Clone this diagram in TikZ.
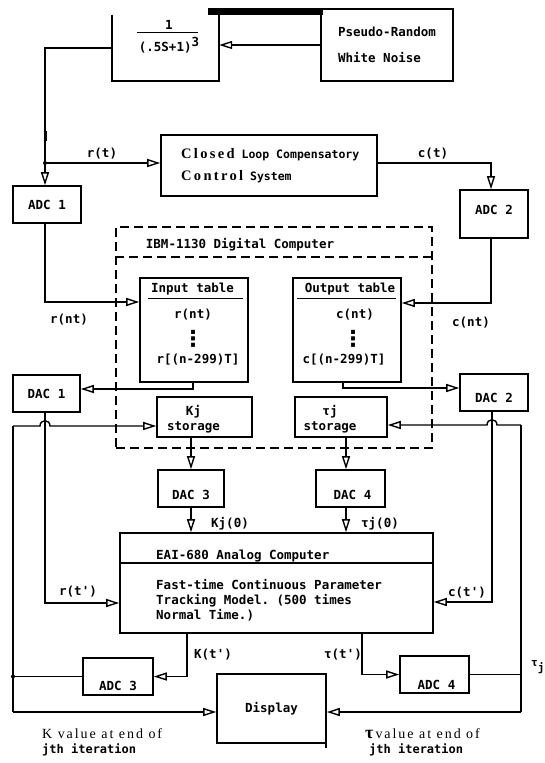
\documentclass[tikz,border=0pt]{standalone}
\usepackage{fontspec}
\setmainfont{Liberation Serif}
\setmonofont{DejaVu Sans Mono}
\newfontfamily\serifsp{Liberation Serif}[LetterSpace=16]
\newfontfamily\seriflb{Liberation Serif}[LetterSpace=14]
\newfontfamily\dvsans{DejaVu Sans}
\usetikzlibrary{arrows.meta}
\newcommand\tyf{\fontsize{12.5}{15}\selectfont\ttfamily\bfseries}
\newcommand\tyfwide{\fontsize{12.5}{26}\selectfont\ttfamily\bfseries}
\newcommand\tyfdots{\dvsans\fontsize{22}{22}\selectfont\bfseries}
\newcommand\tyfsmall{\fontsize{12}{12}\selectfont\ttfamily\bfseries}
\newcommand\tyfcl{\fontsize{11.5}{22}\selectfont\ttfamily\bfseries}
\newcommand\tyftj{\fontsize{11}{12}\selectfont\ttfamily\bfseries}
\newcommand\serifcl{\serifsp\fontsize{14.5}{22}\selectfont\bfseries}
\newcommand\seriflbl{\seriflb\fontsize{14}{14}\selectfont}
\begin{document}
\begin{tikzpicture}[x=1pt,y=-1pt,
  bx/.style={draw, line width=1.6pt, inner sep=0pt, font=\tyf, align=center},
  bxline/.style={line width=1.6pt},
  lbl/.style={font=\tyf, inner sep=0pt},
  ln/.style={line width=1.4pt},
  arr/.style={ln, -{Triangle[open,length=13pt,width=8pt]}},
  dsh/.style={line width=1.5pt, dash pattern=on 9pt off 5pt}
]
\useasboundingbox (0,0) rectangle (544,763);

% ---- top blocks
\node[minimum width=107pt, minimum height=66pt, inner sep=0pt] (tf) at (165.5,48) {};
\draw[bxline] (tf.north west) -- (tf.south west) -- (tf.south east) -- (tf.north east);
\node[lbl] (tfnum) at (169,25) {1};
\draw[line width=1pt] (137,32.5) -- (198,32.5);
\node[lbl] (tfden) at (169,45) {(.5S+1)\raisebox{5pt}{3}};
\fill (208,8) rectangle (323,15);
\node[bx, minimum width=132pt, minimum height=72pt, align=left,
      font=\tyfwide] (noise) at (387,45) {Pseudo-Random\\White Noise};

\node[bx, minimum width=216pt, minimum height=61pt] (cl) at (269,165.5) {};
\node[anchor=west, align=left, inner sep=0pt, font=\tyfcl] (cltxt) at (181,166)
  {{\serifcl Closed} Loop Compensatory\\
   {\serifcl Control} System};

\node[bx, minimum width=68pt, minimum height=37pt] (adc1) at (47,204.5) {ADC 1};
\node[bx, minimum width=68pt, minimum height=48pt,
      label={[lbl,yshift=4pt]center:ADC 2}] (adc2) at (494,214) {};

% ---- digital computer
\node[draw, dsh, minimum width=316pt, minimum height=221pt, inner sep=0pt] (comp) at (274,337.5) {};
\coordinate (sepy) at (0,257);
\draw[dsh] (comp.west |- sepy) -- (comp.east |- sepy);
\node[lbl] (title) at (240,245) {IBM-1130 Digital Computer};

\node[bx, minimum width=108pt, minimum height=104pt] (intab) at (194,330) {};
\node[lbl] (inh) at (192.5,289) {Input table};
\draw[line width=1.1pt] (148,298.5) -- (243,298.5);
\node[lbl] (in1) at (193,315) {r(nt)};
\node[lbl, font=\tyfdots] (indots) at (193,339) {⋮};
\node[lbl] (in2) at (198,360) {r[(n-299)T]};

\node[bx, minimum width=108pt, minimum height=104pt] (outtab) at (347,330) {};
\node[lbl] (outh) at (350,289) {Output table};
\draw[line width=1.1pt] (297,298.5) -- (396,298.5);
\node[lbl] (out1) at (355,315) {c(nt)};
\node[lbl, font=\tyfdots] (outdots) at (353,339) {⋮};
\node[lbl] (out2) at (344,360) {c[(n-299)T]};

\node[bx, minimum width=67pt, minimum height=37pt] (dac1) at (46.5,393.5) {DAC 1};
\node[bx, minimum width=68pt, minimum height=37pt,
      label={[lbl,yshift=-5pt]center:DAC 2}] (dac2) at (494,392.5) {};
\node[bx, minimum width=95pt, minimum height=40pt,
      label={[lbl,align=center,xshift=-11pt,yshift=-2pt]center:Kj\\storage}] (kjs) at (204.5,417) {};
\node[bx, minimum width=92pt, minimum height=40pt,
      label={[lbl,align=center,xshift=-11pt,yshift=-2pt]center:τj\\storage}] (tjs) at (341,417) {};

\node[bx, minimum width=66pt, minimum height=37pt,
      label={[lbl,yshift=-6pt]center:DAC 3}] (dac3) at (191,488.5) {};
\node[bx, minimum width=69pt, minimum height=37pt,
      label={[lbl,yshift=-6pt,xshift=2pt]center:DAC 4}] (dac4) at (350.5,488.5) {};

% ---- analog computer
\node[bx, minimum width=313pt, minimum height=100pt] (eai) at (276.5,583) {};
\coordinate (eaisep) at (0,563);
\draw[bxline] (eai.west |- eaisep) -- (eai.east |- eaisep);
\node[lbl, anchor=base west] (eaititle) at (156,559) {EAI-680 Analog Computer};
\node[lbl, anchor=base west, align=left] (eaibody) at (156,619)
  {Fast-time Continuous Parameter\\Tracking Model. (500 times\\Normal Time.)};

\node[bx, minimum width=70pt, minimum height=37pt,
      label={[lbl,yshift=-9pt]center:ADC 3}] (adc3) at (118,676.5) {};
\node[bx, minimum width=69pt, minimum height=37pt,
      label={[lbl,yshift=-10pt,xshift=2pt]center:ADC 4}] (adc4) at (434.5,674.5) {};
\node[bx, minimum width=109pt, minimum height=69pt] (disp) at (271.5,708.5) {Display};
\draw[line width=2.6pt] (326,727) -- (326,748);

% ---- connectors top
\coordinate (j1) at (45,163);
\coordinate (c1) at (491,163);
\draw[arr] (noise.west) -- (noise.west -| tf.east);
\draw[ln] (tf.west) -| (j1);
\draw[line width=3pt] (45,131) -- (45,141);
\draw[arr] (j1) -- (j1 |- adc1.north);
\draw[arr] (j1) -- (j1 -| cl.west);
\fill (j1) circle (2pt);
\draw[arr] (cl.east |- j1) -| (adc2.north -| c1);
\node[lbl] (lrt) at (102,154) {r(t)};
\node[lbl] (lct) at (433,154) {c(t)};

% ---- to tables
\coordinate (rnt) at (0,302);
\coordinate (cnt) at (0,303);
\draw[arr] (adc1.south -| j1) |- (intab.west |- rnt);
\draw[arr] (adc2.south -| c1) |- (outtab.east |- cnt);
\node[lbl] (lrnt) at (69,320) {r(nt)};
\node[lbl] (lcnt) at (471,323) {c(nt)};

% ---- tables to DACs
\coordinate (d1) at (193,389);
\coordinate (d2) at (343,388);
\draw[arr] (intab.south -| d1) |- (dac1.east |- d1);
\draw[arr] (outtab.south -| d2) |- (dac2.west |- d2);

% ---- left bus
\coordinate (lb1) at (13,426);
\coordinate (lb2) at (13,712);
\draw[ln] (lb1) -- (lb2);
\draw[arr] (lb1) -- (40,426) .. controls (40,419) and (50,419) .. (50,426) -- (kjs.west |- lb1);
\draw[arr] (lb2) -- (disp.west |- lb2);
\draw[ln] (adc3.west) -- (adc3.west -| lb1);
\fill (adc3.west -| lb1) circle (2pt);

% ---- right bus
\coordinate (rb1) at (521,425);
\coordinate (rb2) at (521,712);
\draw[ln] (adc4.east) -- (adc4.east -| rb1);
\draw[ln] (rb1) -- (rb2);
\draw[arr] (rb1) -- (497,425) .. controls (497,418) and (487,418) .. (487,425) -- (tjs.east |- rb1);
\draw[arr] (rb2) -- (disp.east |- rb2);
\node[lbl, anchor=west, font=\tyftj] (ltj) at (531,667) {τ\raisebox{-5pt}{j}};

% ---- storage to DACs to EAI
\coordinate (kjx) at (191,0);
\coordinate (tjx) at (346,0);
\draw[arr] (kjs.south -| kjx) -- (dac3.north -| kjx);
\draw[arr] (tjs.south -| tjx) -- (dac4.north -| tjx);
\draw[arr] (dac3.south -| kjx) -- (eai.north -| kjx);
\draw[arr] (dac4.south -| tjx) -- (eai.north -| tjx);
\node[lbl] (lkj0) at (230,524) {Kj(0)};
\node[lbl] (ltj0) at (380,524) {τj(0)};

% ---- DAC1/DAC2 to EAI
\coordinate (r2) at (45,603);
\coordinate (c2) at (492,602);
\draw[arr] (dac1.south -| r2) |- (eai.west |- r2);
\draw[arr] (dac2.south -| c2) |- (eai.east |- c2);
\node[lbl] (lrtp) at (78,592) {r(t')};
\node[lbl] (lctp) at (467,593) {c(t')};

% ---- EAI to ADC3/ADC4
\coordinate (kx) at (187,0);
\coordinate (tx) at (362,0);
\draw[arr] (eai.south -| kx) |- (adc3.east);
\draw[arr] (eai.south -| tx) |- (adc4.west);
\node[lbl] (lkt) at (213,655) {K(t')};
\node[lbl] (ltt) at (343,655) {τ(t')};

% ---- bottom notes
\node[anchor=base west, inner sep=0pt, font=\seriflbl] (kval) at (42,738) {K value at end of};
\node[lbl, anchor=base west, font=\tyfsmall] (kval2) at (42,753) {jth iteration};
\node[anchor=base west, inner sep=0pt, font=\seriflbl] (tval) at (365,738)
  {{\fontsize{18}{18}\selectfont\bfseries τ}\hspace{2pt}value at end of};
\node[lbl, anchor=base west, font=\tyfsmall] (tval2) at (369,753) {jth iteration};
\end{tikzpicture}
\end{document}
